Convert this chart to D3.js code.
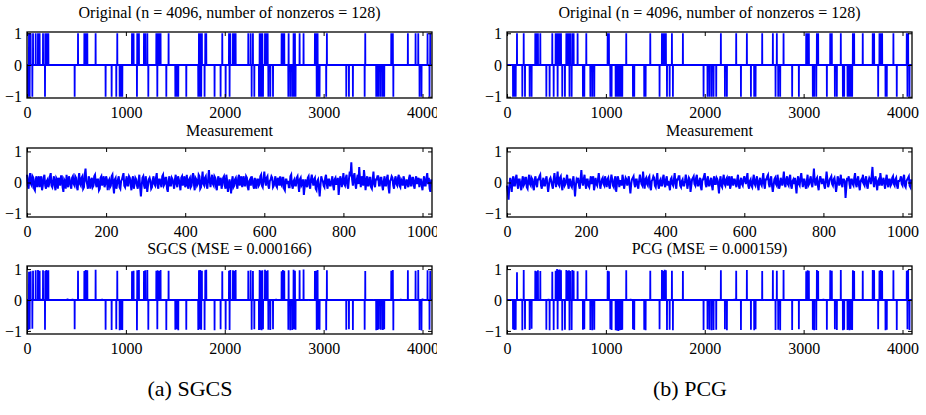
<!DOCTYPE html>
<html><head><meta charset="utf-8">
<script src="https://cdn.jsdelivr.net/npm/d3@7"></script>
<style>
body{margin:0;background:#fff;}
svg{display:block;font-family:'Liberation Serif','DejaVu Serif',serif;}
svg text{font-family:'Liberation Serif','DejaVu Serif',serif !important;fill:#000;}
</style></head><body>
<svg id="chart" width="926" height="415"></svg>
<script>
// ---------------- data ----------------
const signalLength = 4096;
const measureLength = 1024;
const measureStep = 2;
const xTicksSignal = [0, 1000, 2000, 3000, 4000];
const xTicksMeasure = [0, 200, 400, 600, 800, 1000];
const yTicks = [-1, 0, 1];
const titlesLeft = ["Original (n = 4096, number of nonzeros = 128)", "Measurement", "SGCS (MSE = 0.000166)"];
const titlesRight = ["Original (n = 4096, number of nonzeros = 128)", "Measurement", "PCG (MSE = 0.000159)"];
const captions = ["(a) SGCS", "(b) PCG"];

// (a) original spikes: indices of +1 and -1
const origPlusL = [20,37,61,88,111,128,162,185,195,206,216,516,580,593,610,694,913,1062,1078,1115,1132,1183,1196,1217,1308,1321,1335,1351,1432,1739,1752,1769,1803,1813,1975,2043,2056,2083,2097,2110,2238,2262,2285,2353,2366,2380,2407,2420,2434,2575,2588,2602,2646,2696,2710,2757,2797,2912,2925,2939,3033,3421,3684,3700,3852,3930,3957,4051,4078];
const origMinusL = [10,27,54,182,482,795,856,903,937,950,964,1112,1227,1318,1409,1500,1513,1530,1611,1732,1746,1762,1796,1897,1958,2009,2049,2272,2299,2346,2360,2373,2387,2441,2461,2488,2643,2663,2683,2700,2716,2930,2945,2959,3026,3229,3256,3296,3415,3532,3545,3559,3579,3599,3613,3705,3970,3990,4071];
// (a) SGCS reconstructed amplitudes at the same indices
const sgcsPlusL = [0.91,0.93,0.95,0.96,0.97,0.95,0.96,0.94,0.97,0.95,0.96,0.95,0.94,0.97,0.96,0.98,0.95,0.93,0.95,0.96,0.97,0.94,0.96,0.97,0.95,0.96,0.94,0.97,0.95,0.96,0.97,0.95,0.96,0.98,0.93,0.95,0.97,0.96,0.94,0.97,0.95,0.96,0.94,0.97,0.95,0.96,0.98,0.94,0.96,0.93,0.97,0.95,0.96,0.98,0.95,0.96,0.99,0.94,0.95,0.97,0.96,0.94,0.95,0.97,0.96,0.95,0.97,0.96,0.95];
const sgcsMinusL = [-0.97,-0.95,-0.93,-0.96,-0.95,-0.96,-0.97,-0.95,-0.98,-0.96,-0.97,-0.98,-0.96,-0.95,-0.97,-0.96,-0.95,-0.98,-0.96,-0.97,-0.95,-0.96,-0.97,-0.98,-0.95,-0.96,-0.97,-0.96,-0.95,-0.97,-0.96,-0.98,-0.95,-0.96,-0.97,-0.95,-0.96,-0.98,-0.97,-0.95,-0.96,-0.97,-0.95,-0.96,-0.98,-0.96,-0.95,-0.97,-0.96,-0.98,-0.97,-0.95,-0.96,-0.97,-0.95,-0.98,-0.97,-0.99,-0.96];
const sgcsResidPosL = [140,300,410,460,530,640,760,870,1250,1460,1650,2150,2520,2850,3100,3350,3500,3650,3780,3880,4000];
const sgcsResidValL = [0.04,0.03,0.05,0.04,-0.03,0.03,0.04,0.02,0.03,-0.03,0.02,0.03,0.04,-0.02,0.03,-0.03,0.02,0.03,0.04,0.02,0.05];
// (a) measurement, one value every 2 samples
const measureL = [
0.25,-0.1,-0.2,0.15,0.3,-0.05,-0.1,0.2,0.15,-0.2,-0.25,0.1,0.2,-0.15,0.05,0.2,
-0.15,0.1,0.2,-0.25,-0.1,0.15,0.25,-0.1,-0.2,0.05,0.1,-0.15,-0.05,0.2,0.3,-0.1,
-0.15,0.05,0.2,-0.1,-0.25,0.15,0.1,-0.2,0.15,0.05,-0.1,0.2,0.2,-0.15,-0.3,0.1,
0.05,-0.2,0.25,-0.05,-0.15,0.2,0.1,-0.1,-0.2,0.15,0.2,-0.05,-0.1,0.2,0.15,-0.15,
-0.25,0.1,0.3,-0.05,-0.1,0.15,0.2,-0.2,-0.15,0.25,0.45,0.05,-0.05,-0.2,0.2,0.1,
-0.2,0.05,0.15,-0.15,-0.1,0.2,0.25,-0.05,-0.15,0.1,0.1,-0.25,-0.2,0.15,0.2,-0.1,
0.05,0.2,-0.15,-0.05,0.2,0.1,-0.25,0.05,0.1,-0.15,-0.1,0.2,0.25,-0.1,-0.35,0.1,
0.15,-0.2,-0.05,0.1,0.2,-0.15,-0.2,0.05,0.1,0.2,0.3,-0.1,-0.15,0.05,0.2,-0.1,
-0.1,0.2,0.15,-0.05,-0.25,0.1,0.2,-0.2,-0.05,0.15,0.1,-0.1,-0.2,0.05,0.25,-0.15,
-0.45,-0.1,0.15,0.2,-0.1,-0.2,0.2,0.05,-0.3,-0.1,0.1,0.15,0.05,-0.2,-0.15,0.1,
0.2,-0.05,-0.1,0.15,0.3,-0.1,-0.2,0.1,0.1,-0.05,-0.15,0.2,0.25,-0.1,-0.05,0.15,
0.15,-0.2,-0.3,0.05,0.2,-0.1,-0.1,0.15,0.1,-0.05,-0.2,0.1,0.25,-0.05,-0.15,0.2,
0.1,-0.05,-0.25,0.15,0.2,-0.1,0.05,0.2,-0.15,-0.05,0.25,-0.1,-0.2,0.1,0.15,-0.15,
-0.1,0.2,0.3,-0.05,-0.25,0.15,0.1,-0.1,-0.05,0.25,0.2,-0.2,-0.15,0.1,0.35,-0.05,
-0.1,0.15,0.2,-0.1,-0.2,0.1,0.4,0.05,-0.15,0.1,0.25,-0.05,-0.1,0.2,0.15,-0.15,
-0.25,0.1,0.2,-0.1,0.05,0.15,-0.2,-0.05,0.15,0.2,-0.1,-0.2,0.25,0.05,-0.3,-0.1,
0.1,-0.1,-0.35,0.05,0.2,-0.15,-0.1,0.1,0.15,-0.05,-0.2,0.15,0.25,-0.1,0.05,0.2,
-0.15,0.05,0.2,-0.1,-0.1,0.2,0.15,-0.15,-0.25,0.05,0.1,-0.1,0.2,0.1,-0.1,-0.2,
0.15,-0.05,-0.2,0.1,0.1,-0.1,-0.05,0.2,0.25,-0.1,-0.15,0.1,0.35,0.05,-0.1,0.15,
0.2,-0.1,-0.2,0.05,0.1,0.2,0.15,-0.15,-0.1,0.05,0.2,-0.1,-0.15,0.15,0.05,-0.1,
0.2,-0.05,-0.1,0.15,0.15,-0.2,-0.25,0.1,0.1,-0.05,0.05,-0.15,-0.15,0.2,0.25,-0.1,
-0.2,0.05,0.1,-0.1,-0.1,0.15,0.2,-0.05,-0.3,0.1,0.15,-0.1,-0.05,0.1,-0.4,-0.15,
0.1,-0.05,-0.15,0.15,0.2,-0.1,-0.2,0.1,0.25,0.05,-0.1,0.1,0.15,-0.2,-0.25,0.05,
0.1,-0.15,-0.45,-0.1,0.2,0.1,0.05,-0.1,-0.15,0.15,0.25,-0.05,-0.2,0.1,0.1,-0.1,
-0.1,0.05,0.2,-0.1,-0.25,0.1,0.15,-0.05,-0.05,0.15,-0.4,-0.1,0.2,0.1,-0.15,0.05,
0.3,-0.05,-0.1,0.15,0.25,-0.1,-0.2,0.1,0.35,0.2,0.65,0.1,-0.1,0.2,0.3,-0.05,
-0.2,0.1,0.25,-0.05,0.5,0.1,-0.15,0.2,0.1,-0.1,0.4,0.15,-0.25,0.05,0.2,-0.1,
-0.1,0.15,0.15,-0.15,-0.2,0.1,0.35,-0.05,-0.15,0.1,0.1,0.2,0.2,-0.1,-0.1,0.15,
0.15,-0.1,-0.25,0.05,0.2,-0.1,-0.1,0.15,0.25,-0.15,-0.35,0.05,0.1,0.2,0.15,-0.1,
-0.2,0.1,0.2,-0.05,-0.1,0.15,0.25,-0.1,-0.15,0.1,0.05,-0.1,0.2,0.1,-0.2,-0.05,
0.1,-0.05,-0.15,0.15,0.25,-0.1,-0.1,0.15,0.15,-0.1,-0.2,0.1,0.2,-0.05,0.05,0.15,
-0.15,0.1,0.1,-0.1,-0.25,0.05,0.2,-0.1,-0.1,0.15,0.3,-0.05,0.15,-0.2,-0.3,0.1];

// (b) original spikes
const origPlusR = [101,169,286,300,313,337,458,492,506,519,532,546,600,613,627,640,661,674,714,802,1018,1031,1206,1449,1567,1581,1594,1607,1668,1779,2163,2318,2426,2581,2689,2729,2797,3026,3040,3053,3134,3147,3269,3285,3376,3498,3511,3598,3699,3713,3767,3780,3794,3908,4043,4057];
const origMinusR = [61,74,88,155,182,229,249,398,431,472,512,559,586,632,654,768,782,843,863,883,1045,1058,1099,1112,1126,1139,1153,1166,1274,1287,1388,1402,1543,1618,1645,1678,1988,2028,2048,2069,2089,2116,2204,2224,2366,2467,2500,2514,2716,2743,2763,2884,2952,3093,3107,3128,3235,3316,3336,3397,3410,3444,3451,3464,3477,3491,3754,3828,3841,3942,4050,4071];
// (b) PCG reconstructed amplitudes
const pcgPlusR = [0.9,0.97,0.95,0.93,0.96,0.94,0.91,0.95,1.0,0.98,0.99,0.96,0.97,0.95,0.96,0.94,0.97,0.95,0.93,0.96,0.95,0.93,0.96,0.95,0.97,0.94,0.98,0.96,0.95,0.94,0.96,0.95,0.97,0.94,0.96,0.95,0.97,0.93,0.96,0.95,0.97,0.94,0.96,0.95,0.97,0.96,0.94,0.95,0.97,0.96,0.95,0.97,0.94,0.96,0.95,0.97];
const pcgMinusR = [-0.95,-0.97,-0.96,-0.98,-0.95,-0.97,-0.93,-0.96,-0.98,-0.97,-0.95,-0.99,-0.96,-0.98,-0.97,-0.96,-0.95,-0.97,-0.98,-0.96,-0.95,-0.97,-0.98,-0.99,-1.0,-0.98,-0.97,-0.96,-0.95,-0.97,-0.96,-0.98,-0.95,-0.97,-0.96,-0.98,-0.97,-0.95,-0.96,-0.98,-0.97,-0.96,-0.95,-0.98,-0.97,-0.96,-0.98,-0.95,-0.97,-0.96,-0.98,-0.97,-0.95,-0.96,-0.98,-0.97,-0.96,-0.95,-0.97,-0.98,-0.96,-0.97,-0.95,-0.98,-0.96,-0.97,-0.95,-0.98,-0.96,-0.97,-0.95,-0.97];
const pcgResidPosR = [20,140,270,380,420,700,900,1000,1250,1350,1500,1720,1850,2300,2600,3000,3200,3600,3880,4000];
const pcgResidValR = [0.03,0.04,-0.03,0.02,0.04,0.03,-0.02,0.03,0.04,0.02,-0.03,0.03,0.02,0.04,-0.02,0.03,0.04,0.03,-0.03,0.03];
// (b) measurement, one value every 2 samples
const measureR = [
-0.1,-0.3,-0.55,-0.1,0.15,-0.05,-0.3,0.1,0.2,-0.1,-0.1,0.15,0.25,-0.05,-0.2,0.1,
0.1,-0.1,-0.25,0.05,0.2,-0.1,-0.05,0.15,0.15,-0.15,-0.2,0.1,0.25,-0.05,-0.1,0.15,
0.1,-0.15,-0.25,0.1,0.2,-0.05,-0.15,0.1,0.1,0.2,0.25,-0.1,-0.2,0.05,0.15,-0.1,
-0.1,0.1,0.2,-0.05,-0.3,-0.1,0.1,0.15,0.05,-0.1,-0.2,0.1,0.3,0.05,-0.15,0.1,
0.35,-0.05,-0.1,0.15,0.2,-0.1,-0.25,0.05,0.15,-0.1,-0.05,0.1,0.25,-0.05,-0.2,0.1,
0.1,-0.1,-0.15,0.05,0.2,-0.1,-0.45,-0.1,0.1,0.05,0.15,-0.1,-0.2,0.1,0.4,0.05,
-0.1,0.1,0.25,-0.05,-0.2,0.1,0.1,-0.1,-0.15,0.05,0.2,-0.05,0.05,0.2,-0.25,-0.1,
0.15,-0.05,-0.1,0.1,0.3,0.05,-0.2,-0.05,0.1,0.15,-0.05,-0.1,0.2,0.05,-0.15,0.1,
0.15,-0.1,-0.2,0.05,0.25,0.1,-0.1,-0.15,0.1,0.2,-0.3,-0.05,0.2,0.1,-0.15,0.05,
0.05,-0.1,0.25,0.1,-0.2,-0.05,0.15,0.1,-0.1,0.05,0.2,-0.1,-0.35,-0.05,0.1,0.15,
0.2,-0.05,-0.15,0.1,0.1,-0.1,-0.2,0.05,0.25,0.1,-0.05,-0.1,0.35,0.05,-0.2,0.1,
0.15,-0.05,-0.1,0.15,0.2,-0.15,-0.25,0.05,0.1,0.2,0.15,-0.1,-0.15,0.1,0.3,-0.05,
-0.2,0.05,0.1,-0.1,-0.1,0.15,0.25,-0.05,-0.15,0.1,0.2,-0.1,0.05,-0.1,-0.25,0.1,
0.15,-0.05,-0.1,0.1,0.3,-0.05,-0.2,0.1,0.1,0.2,0.2,-0.1,-0.15,0.05,0.1,-0.1,
-0.1,0.05,0.25,0.1,-0.2,-0.05,0.15,0.1,-0.3,-0.1,0.1,0.15,0.2,-0.05,-0.1,0.15,
0.25,-0.1,-0.1,0.05,0.15,-0.15,-0.25,0.1,0.1,0.2,0.3,-0.05,-0.15,0.1,0.2,-0.1,
-0.1,0.05,0.15,-0.1,-0.25,0.1,0.2,-0.05,-0.05,0.15,0.1,-0.1,-0.35,0.05,0.2,-0.1,
-0.15,0.1,0.25,-0.05,-0.1,0.1,0.15,-0.1,0.05,0.2,-0.2,-0.1,0.2,0.05,-0.1,0.1,
0.1,-0.05,-0.15,0.1,0.25,-0.1,-0.2,0.05,0.15,-0.05,-0.1,0.1,0.2,0.05,-0.05,0.15,
0.3,-0.1,-0.2,0.05,0.1,-0.1,-0.15,0.1,0.25,-0.05,-0.1,0.1,0.2,-0.1,-0.25,0.05,
0.15,-0.05,-0.1,0.1,0.3,-0.05,-0.2,0.1,0.1,0.2,0.25,-0.05,-0.15,0.1,0.2,-0.1,
-0.3,-0.1,0.1,0.15,-0.05,-0.1,0.25,0.05,-0.2,-0.1,0.15,0.05,-0.1,0.1,0.35,-0.05,
-0.15,0.1,0.2,-0.05,-0.1,0.15,0.25,-0.1,-0.2,0.05,0.1,-0.05,0.15,-0.1,-0.35,0.05,
0.2,-0.05,-0.1,0.15,0.3,0.05,-0.15,0.1,0.1,-0.1,-0.2,0.05,0.25,-0.1,-0.05,0.1,
0.2,-0.05,-0.15,0.1,0.45,0.05,-0.1,0.1,0.15,-0.1,-0.25,0.05,0.2,0.1,-0.05,0.1,
0.1,-0.1,-0.2,0.05,0.35,0.1,-0.15,-0.05,0.1,0.15,0.2,-0.05,-0.1,0.1,0.15,-0.05,
-0.3,-0.1,0.2,0.1,-0.1,0.05,0.25,-0.05,-0.15,0.1,0.1,0.05,-0.5,-0.15,0.15,0.05,
0.2,-0.05,-0.2,0.1,0.1,-0.05,-0.1,0.15,0.3,-0.05,-0.15,0.1,0.2,-0.1,-0.25,0.05,
0.1,0.05,0.25,-0.05,-0.1,0.1,0.2,-0.1,-0.2,0.05,0.15,0.1,-0.05,0.2,0.5,0.05,
-0.15,0.1,0.2,-0.05,-0.25,0.05,0.1,-0.1,0.3,0.1,-0.1,0.05,0.15,-0.05,-0.2,0.1,
0.25,-0.05,-0.15,0.1,0.1,-0.1,-0.05,0.15,0.2,-0.05,-0.1,0.1,0.15,-0.1,-0.2,0.05,
0.05,0.1,0.2,-0.05,-0.1,0.15,0.25,-0.1,-0.15,0.05,0.1,0.15,0.2,-0.1,-0.15,0.1];

// ---------------- drawing ----------------
function sparseToSeries(plus, minus, plusVals, minusVals, residPos, residVals) {
  const a = new Array(signalLength).fill(0);
  if (residPos) residPos.forEach((p, i) => { a[p] = residVals[i]; });
  plus.forEach((p, i) => { a[p] = plusVals ? plusVals[i] : 1; });
  minus.forEach((p, i) => { a[p] = minusVals ? minusVals[i] : -1; });
  return a.map((v, i) => ({x: i, y: v}));
}
function measureSeries(vals) {
  return vals.map((v, i) => ({x: i * measureStep, y: v}));
}

const FONT = "'Liberation Serif','DejaVu Serif',serif";
const svg = d3.select('#chart');
const W = 405;
const colX = [27, 507];
const rows = [
  {y0: 32, h: 66, yDom: [-1.04, 1.04], titleY: 18},
  {y0: 148, h: 69, yDom: [-1.11, 1.11], titleY: 136},
  {y0: 266, h: 68, yDom: [-1.1, 1.1], titleY: 254}
];

svg.append('defs').append('clipPath').attr('id', 'clipLeft')
  .append('rect').attr('x', 0).attr('y', 0).attr('width', 437).attr('height', 415);

function drawPanel(g, x0, row, xDom, xTicks, data, title, lw) {
  const x = d3.scaleLinear().domain(xDom).range([x0, x0 + W]);
  const y = d3.scaleLinear().domain(row.yDom).range([row.y0 + row.h, row.y0]);
  const yb = row.y0 + row.h;

  g.append('path').datum(data)
    .attr('fill', 'none').attr('stroke', '#0000ff').attr('stroke-width', lw)
    .attr('stroke-linejoin', 'miter')
    .attr('d', d3.line().x(d => x(d.x)).y(d => y(d.y)));

  const fmt = d3.format('d');
  const axB = g.append('g').attr('transform', `translate(0,${yb})`)
    .call(d3.axisBottom(x).tickValues(xTicks).tickSizeInner(-4).tickSizeOuter(0).tickPadding(8.6).tickFormat(fmt));
  const axT = g.append('g').attr('transform', `translate(0,${row.y0})`)
    .call(d3.axisTop(x).tickValues(xTicks).tickSizeInner(-4).tickSizeOuter(0).tickFormat(''));
  const axL = g.append('g').attr('transform', `translate(${x0},0)`)
    .call(d3.axisLeft(y).tickValues(yTicks).tickSizeInner(-4).tickSizeOuter(0).tickPadding(5).tickFormat(d3.format('d')));
  const axR = g.append('g').attr('transform', `translate(${x0 + W},0)`)
    .call(d3.axisRight(y).tickValues(yTicks).tickSizeInner(-4).tickSizeOuter(0).tickFormat(''));
  [axB, axT, axL, axR].forEach(a => {
    a.attr('font-family', FONT).attr('font-size', 16);
    a.select('.domain').remove();
    a.selectAll('line').attr('stroke', '#000').attr('stroke-width', 1);
    a.selectAll('text').attr('font-size', 16).attr('font-family', FONT).attr('fill', '#000');
  });

  g.append('rect').attr('x', x0).attr('y', row.y0).attr('width', W).attr('height', row.h)
    .attr('fill', 'none').attr('stroke', '#000').attr('stroke-width', 1.3);

  g.append('text').attr('x', x0 + W / 2).attr('y', row.titleY)
    .attr('text-anchor', 'middle').attr('font-family', FONT).attr('font-size', 16).text(title);
}

const gL = svg.append('g').attr('clip-path', 'url(#clipLeft)');
const gR = svg.append('g');

drawPanel(gL, colX[0], rows[0], [0, signalLength], xTicksSignal, sparseToSeries(origPlusL, origMinusL), titlesLeft[0], 1.8);
drawPanel(gL, colX[0], rows[1], [0, measureLength], xTicksMeasure, measureSeries(measureL), titlesLeft[1], 2);
drawPanel(gL, colX[0], rows[2], [0, signalLength], xTicksSignal, sparseToSeries(origPlusL, origMinusL, sgcsPlusL, sgcsMinusL, sgcsResidPosL, sgcsResidValL), titlesLeft[2], 1.8);

drawPanel(gR, colX[1], rows[0], [0, signalLength], xTicksSignal, sparseToSeries(origPlusR, origMinusR), titlesRight[0], 1.8);
drawPanel(gR, colX[1], rows[1], [0, measureLength], xTicksMeasure, measureSeries(measureR), titlesRight[1], 2);
drawPanel(gR, colX[1], rows[2], [0, signalLength], xTicksSignal, sparseToSeries(origPlusR, origMinusR, pcgPlusR, pcgMinusR, pcgResidPosR, pcgResidValR), titlesRight[2], 1.8);

svg.append('text').attr('x', 190).attr('y', 396).attr('text-anchor', 'middle')
  .attr('font-family', FONT).attr('font-size', 22).text(captions[0]);
svg.append('text').attr('x', 690).attr('y', 396).attr('text-anchor', 'middle')
  .attr('font-family', FONT).attr('font-size', 22).text(captions[1]);
</script>
</body></html>
